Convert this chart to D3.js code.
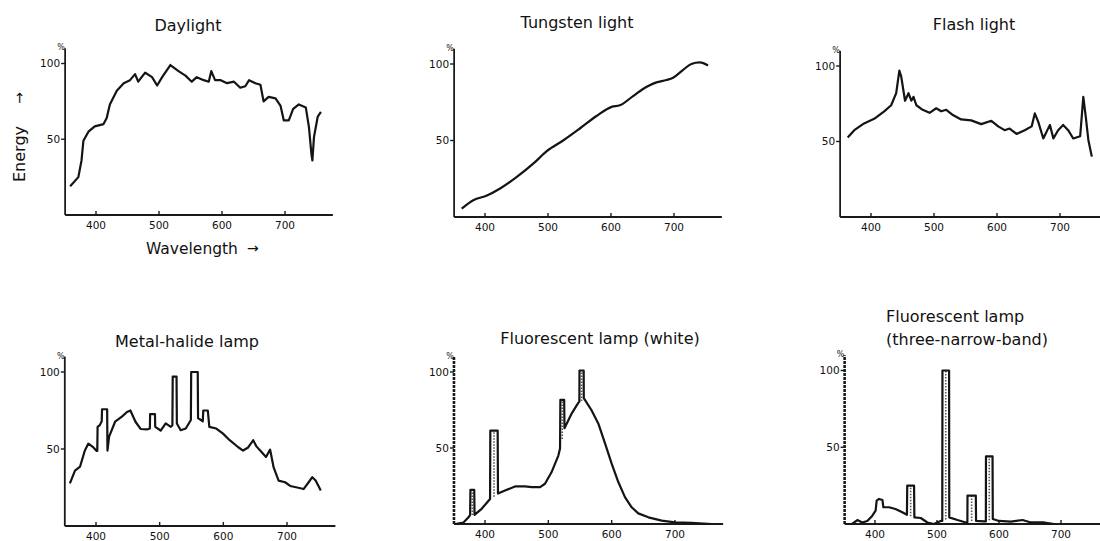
<!DOCTYPE html>
<html>
<head>
<meta charset="utf-8">
<script src="https://cdn.jsdelivr.net/npm/d3@7/dist/d3.min.js"></script>
<style>
  html, body { margin: 0; padding: 0; background: #fff; }
  svg text { font-family: 'DejaVu Sans', sans-serif; fill: #111; }
</style>
</head>
<body>
<div id="chart"></div>
<script>
// wavelength (nm) / relative energy (%)
var wavelengthTicks = [400, 500, 600, 700];
var energyTicks = [50, 100];

var daylight = [[359,19],[372,25],[377,36],[380,49],[388,55],[398,58.5],[412,60],[417,64],[422,73],[433,82],[444,87],[454,89],[462,93],[467,88],[478,94],[489,91],[497,85.5],[505,91],[518,99],[531,95],[542,92],[552,88],[560,91],[571,89],[579,88],[583,95],[589,89],[598,89],[608,87],[619,88],[629,84],[637,85],[643,89],[653,87],[661,86],[666,75],[674,78],[685,77],[693,72],[698,62.5],[706,62.5],[713,70],[722,73],[733,71],[738,58],[742,40],[743.5,36],[746,51.5],[752,65],[757,68]];

var tungsten = [[363,5.5],[381.5,11],[403,14],[424,18.6],[450,26],[477,35],[498,43],[524,50],[551,58],[577,66],[601,72],[614,73],[635,79],[656,85],[672,88],[688,89.5],[698.5,91],[714,96],[727.5,100],[741,101],[754,99]];

var flash = [[363,52.7],[373.5,57.5],[389,62],[405,65],[421,70],[432,74],[440,82],[445,97],[448,93],[454,77],[459.5,82],[464,77],[467.5,79.6],[472,74],[482,71],[493,69],[503.5,72],[511.5,70],[519.5,71],[530,67.5],[543,64.6],[559,64],[575,61.5],[591,63.7],[602,60],[612,57.5],[620,58.6],[631,55],[644,57.5],[655,60],[660,68.6],[665.5,63],[673.5,52],[684,61],[689.5,52],[697,57.5],[705,61],[713,57.5],[721,52],[732,53.5],[737,79.6],[741,66],[745,51],[750.5,40]];

var metalHalide = [[359,27.7],[367,36],[375,38.6],[382.5,49],[388,53.5],[396,51],[401,48.7],[402,48.7],[402.5,64.4],[406,65.5],[409,68],[409.5,75.8],[417.5,75.8],[418,49],[420.6,58],[430,67.7],[440.7,71],[448.7,74],[454,75],[462,67.7],[470,63],[480,62.7],[484.6,63.3],[485,72.7],[492.6,72.7],[493,64.4],[501.6,62],[509.5,66.6],[517.5,64.4],[520,65.5],[520.5,97],[526.5,97],[527,66.6],[533,62.2],[541,63.3],[549,68.8],[549.5,100],[559.8,100],[560.3,70],[567.7,68],[568.5,75],[575.6,75],[578,64.4],[589,63.3],[599.5,60],[610,55.7],[623,51.3],[631,49],[639,51],[647,55.7],[652,51.7],[660,48],[667,44.8],[673.5,49.6],[679,38],[686.8,29.5],[697,28.4],[705,26],[716,25],[726,24],[734,28.4],[739.7,31.7],[745,29.5],[753,23]];

var fluorWhite = [[353,0],[366,1],[374,4.4],[376.5,6],[377,22.5],[383,22.5],[383.5,6],[394.7,10],[408,16.5],[408.4,61.4],[420,61.4],[420.5,20],[431.6,22],[447.4,24.7],[463,24.7],[473.7,24.3],[487,24.3],[494.7,26.5],[505,34],[515.8,45],[518.5,49.7],[519,81.7],[525,81.7],[525.5,63],[537,72.8],[547,79.5],[549,80.5],[549.2,101],[555.8,101],[556,82.8],[568,75],[579,66],[589.5,53],[600,39.7],[610.5,27.6],[621,17.7],[631.6,11],[642,7],[658,4.4],[679,2.2],[700,1.1],[726,0.7],[758,0]];

var fluorThreeBand = [[363,0],[371.5,2.6],[379.5,1],[387.6,2],[395.7,5.4],[401,8.7],[402.7,15.2],[406.5,16.3],[412,15.6],[413.5,10.9],[422.6,10.9],[433,9.8],[444,7.6],[451.5,6],[452,25],[463,25],[463.5,4.3],[473.8,3.9],[484.5,1],[495,0],[506,2],[508.5,2],[508.8,100],[519.5,100],[519.8,4.3],[533,2.6],[546.5,1],[549,1],[549.2,18.5],[562.6,18.5],[563,2],[576,1.7],[578.8,1.7],[579,44],[589.6,44],[590,3.3],[600,2],[619,1.5],[638,2.6],[651.5,1],[673,1],[689,0]];

// emission lines: [centre nm, bottom %, top %]
var fluorWhiteLines = [[380,6,22.5],[414.2,18,61.4],[522,56,81.7],[552.5,81,101]];
var fluorThreeBandLines = [[457.5,5,25],[514.1,3,100],[555.9,2,18.5],[584.3,2.5,44]];

var panels = [
	{title: ['Daylight'], data: daylight, lines: [], x: [96, 285], y: [215, 63.5], tx: 188, ty: 31, curve: d3.curveLinear},
	{title: ['Tungsten light'], data: tungsten, lines: [], x: [485, 674], y: [217, 64], tx: 577, ty: 28, curve: d3.curveMonotoneX},
	{title: ['Flash light'], data: flash, lines: [], x: [871, 1060], y: [217, 66], tx: 974, ty: 30, curve: d3.curveLinear},
	{title: ['Metal-halide lamp'], data: metalHalide, lines: [], x: [96, 287], y: [526, 372], tx: 187, ty: 347, curve: d3.curveLinear},
	{title: ['Fluorescent lamp (white)'], data: fluorWhite, lines: fluorWhiteLines, x: [485, 675], y: [524, 372], tx: 600, ty: 344, curve: d3.curveLinear, dotted: true},
	{title: ['Fluorescent lamp', '(three-narrow-band)'], data: fluorThreeBand, lines: fluorThreeBandLines, x: [875, 1061], y: [524, 370.5], tx: 886, ty: 322, anchor: 'start', curve: d3.curveLinear, dotted: true}
];

var svg = d3.select('#chart').append('svg')
	.attr('width', 1100)
	.attr('height', 541);

panels.forEach(function(p) {
	var x = d3.scaleLinear().domain([400, 700]).range(p.x);
	var y = d3.scaleLinear().domain([0, 100]).range(p.y);
	var g = svg.append('g');

	var left = x(351), right = Math.min(x(776), 1100), base = y(0), top = y(110);

	// axes
	g.append('line')
	    .attr('x1', left).attr('x2', right)
	    .attr('y1', base).attr('y2', base)
	    .attr('stroke', '#1a1a1a').attr('stroke-width', 1.8);
	g.append('line')
	    .attr('x1', left).attr('x2', left)
	    .attr('y1', base).attr('y2', top)
	    .attr('stroke', '#1a1a1a').attr('stroke-width', p.dotted ? 2.6 : 1.8)
	    .attr('stroke-dasharray', p.dotted ? '3,1' : null);

	g.selectAll('.xt').data(wavelengthTicks).enter().append('line')
	    .attr('x1', function(d) { return x(d); }).attr('x2', function(d) { return x(d); })
	    .attr('y1', base + 1).attr('y2', base - 4)
	    .attr('stroke', '#1a1a1a').attr('stroke-width', 1.4);
	g.selectAll('.xl').data(wavelengthTicks).enter().append('text')
	    .attr('x', function(d) { return x(d); })
	    .attr('y', base + 14)
	    .attr('text-anchor', 'middle')
	    .style('font-size', '10.5px')
	    .text(function(d) { return d; });

	g.selectAll('.yt').data(energyTicks).enter().append('line')
	    .attr('x1', left - 4).attr('x2', left)
	    .attr('y1', function(d) { return y(d); }).attr('y2', function(d) { return y(d); })
	    .attr('stroke', '#1a1a1a').attr('stroke-width', 1.4);
	g.selectAll('.yl').data(energyTicks).enter().append('text')
	    .attr('x', left - 5)
	    .attr('y', function(d) { return y(d); })
	    .attr('dy', '0.36em')
	    .attr('text-anchor', 'end')
	    .style('font-size', '10.5px')
	    .text(function(d) { return d; });

	g.append('text')
	    .attr('x', left - 4)
	    .attr('y', top + 2)
	    .attr('text-anchor', 'middle')
	    .style('font-size', '8px')
	    .text('%');

	// hatched emission lines
	g.selectAll('.em').data(p.lines).enter().append('line')
	    .attr('x1', function(d) { return x(d[0]); }).attr('x2', function(d) { return x(d[0]); })
	    .attr('y1', function(d) { return y(d[1]); }).attr('y2', function(d) { return y(d[2]); })
	    .attr('stroke', '#555').attr('stroke-width', 1.6)
	    .attr('stroke-dasharray', '1.5,1.5');

	var line = d3.line()
	    .x(function(d) { return x(d[0]); })
	    .y(function(d) { return y(d[1]); })
	    .curve(p.curve);
	g.append('path')
	    .datum(p.data)
	    .attr('d', line)
	    .attr('fill', 'none')
	    .attr('stroke', '#141414')
	    .attr('stroke-width', 2.2)
	    .attr('stroke-linejoin', 'round');

	var t = g.append('text')
	    .attr('x', p.tx)
	    .attr('y', p.ty)
	    .attr('text-anchor', p.anchor || 'middle')
	    .style('font-size', '16px');
	p.title.forEach(function(s, i) {
		t.append('tspan').attr('x', p.tx).attr('dy', i ? 23 : 0).text(s);
	});
});

// axis names on the first panel
svg.append('text')
	.attr('x', 146).attr('y', 254)
	.style('font-size', '15.5px')
	.text('Wavelength');
svg.append('text')
	.attr('x', 247).attr('y', 253)
	.style('font-size', '14px')
	.text('\u2192');
svg.append('text')
	.attr('transform', 'translate(25,154) rotate(-90)')
	.attr('text-anchor', 'middle')
	.style('font-size', '16px')
	.text('Energy');
svg.append('text')
	.attr('transform', 'translate(24,98) rotate(-90)')
	.attr('text-anchor', 'middle')
	.style('font-size', '14px')
	.text('\u2192');
</script>
</body>
</html>
